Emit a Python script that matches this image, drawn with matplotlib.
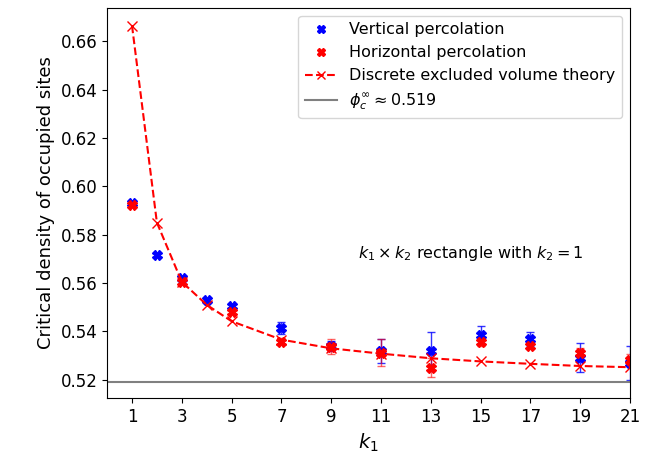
import numpy as np
import matplotlib
matplotlib.use("Agg")
import matplotlib.pyplot as plt

# vertical percolation
k_vert = [1, 2, 3, 4, 5, 7, 9, 11, 13, 15, 17, 19, 21]
phi_vert = [0.5930, 0.5717, 0.5622, 0.5528, 0.5505, 0.5415, 0.5340, 0.5318, 0.5318, 0.5387, 0.5368, 0.5292, 0.5268]
err_vert = [0.0008, 0.0008, 0.0008, 0.0008, 0.0010, 0.0025, 0.0020, 0.0050, 0.0080, 0.0035, 0.0030, 0.0060, 0.0070]

# horizontal percolation
k_hor = [1, 3, 5, 7, 9, 11, 13, 15, 17, 19, 21]
phi_hor = [0.5921, 0.5603, 0.5482, 0.5357, 0.5337, 0.5312, 0.5250, 0.5355, 0.5341, 0.5310, 0.5282]
err_hor = [0.0008, 0.0010, 0.0010, 0.0015, 0.0030, 0.0055, 0.0040, 0.0015, 0.0015, 0.0020, 0.0025]

# discrete excluded volume theory
k_th = [1, 2, 3, 4, 5, 7, 9, 11, 13, 15, 17, 19, 21]
phi_th = [0.6665, 0.5850, 0.5605, 0.5510, 0.5442, 0.5366, 0.5330, 0.5308, 0.5289, 0.5276, 0.5266, 0.5257, 0.5252]

phi_inf = 0.519

fig = plt.figure(figsize=(6.57, 4.58), dpi=100)
ax = fig.add_axes([0.163, 0.131, 0.796, 0.852])

# error bars first, markers on top
ax.errorbar(k_vert, phi_vert, yerr=err_vert, fmt="none", ecolor="blue",
            elinewidth=1, capsize=3, alpha=0.8)
ax.errorbar(k_hor, phi_hor, yerr=err_hor, fmt="none", ecolor="red",
            elinewidth=1, capsize=3, alpha=0.6)
h1, = ax.plot(k_vert, phi_vert, "X", color="blue", markersize=7, linestyle="none",
              label="Vertical percolation")
h2, = ax.plot(k_hor, phi_hor, "X", color="red", markersize=7, linestyle="none",
              label="Horizontal percolation")
h3, = ax.plot(k_th, phi_th, "x--", color="red", markersize=7, linewidth=1.5,
              label="Discrete excluded volume theory")
h4 = ax.axhline(phi_inf, color="gray", linewidth=1.5,
                label=r"$\phi_c^{\infty} \approx 0.519$")

ax.set_xlim(0, 21)
ax.set_xticks(range(1, 22, 2))
ax.tick_params(labelsize=12)
ax.set_xlabel(r"$k_1$", fontsize=14)
ax.set_ylabel("Critical density of occupied sites", fontsize=13)

ax.text(14.6, 0.5722, r"$k_1 \times k_2$ rectangle with $k_2 = 1$", fontsize=11.5,
        ha="center", va="center")

ax.legend(handles=[h1, h2, h3, h4], loc="upper right", fontsize=11.5,
          markerscale=0.8)

fig.savefig("out.png", dpi=100)
